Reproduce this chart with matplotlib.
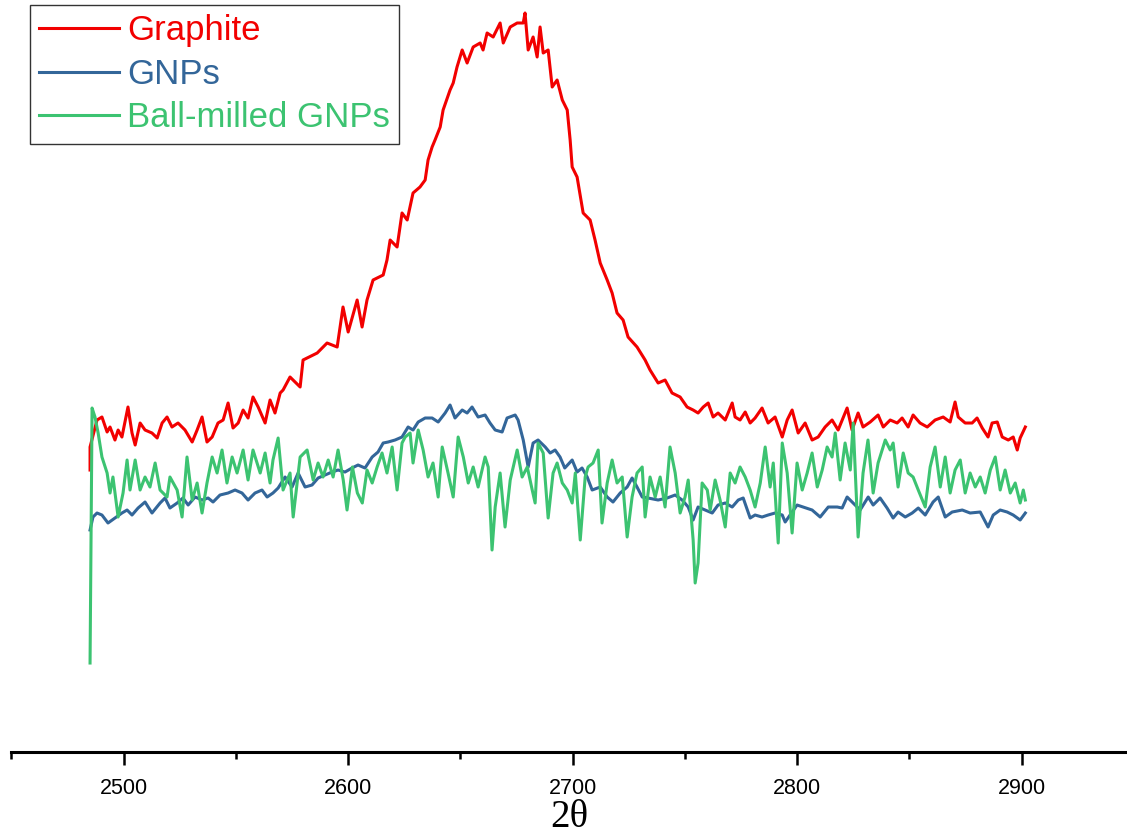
import matplotlib
matplotlib.use("Agg")
import matplotlib.pyplot as plt
from matplotlib.ticker import MultipleLocator

# Raman 2D band, intensity in arbitrary units
graphite_x = [2485.0, 2485.0, 2488.1, 2490.3, 2492.6, 2493.9, 2496.1, 2497.5, 2499.2, 2501.9,
              2503.7, 2505.1, 2507.3, 2509.5, 2512.6, 2514.9, 2517.1, 2519.3, 2521.5, 2524.2,
              2527.3, 2530.5, 2532.7, 2534.9, 2537.1, 2539.4, 2542.0, 2544.3, 2546.5, 2548.7,
              2551.0, 2553.2, 2555.4, 2557.6, 2559.9, 2563.0, 2565.2, 2567.4, 2569.7, 2571.0,
              2574.1, 2578.6, 2579.9, 2586.2, 2590.6, 2595.1, 2597.7, 2600.0, 2604.0, 2606.2,
              2608.4, 2611.1, 2615.6, 2617.3, 2618.7, 2621.8, 2624.0, 2626.3, 2628.9, 2632.0,
              2634.3, 2635.6, 2637.4, 2638.7, 2641.0, 2642.3, 2645.4, 2646.8, 2648.5, 2650.8,
              2653.0, 2655.7, 2658.8, 2660.1, 2661.9, 2664.6, 2667.7, 2669.1, 2672.2, 2675.3,
              2678.0, 2678.8, 2680.2, 2682.4, 2684.2, 2685.5, 2686.9, 2689.1, 2690.9, 2693.1,
              2695.4, 2697.6, 2698.9, 2699.8, 2702.0, 2704.7, 2707.8, 2710.0, 2712.3, 2715.4,
              2717.6, 2719.8, 2722.5, 2724.7, 2728.7, 2732.3, 2734.5, 2738.1, 2741.2, 2744.3,
              2747.9, 2751.0, 2753.7, 2755.9, 2758.2, 2760.4, 2762.6, 2764.8, 2768.0, 2771.1,
              2772.4, 2774.6, 2776.9, 2779.1, 2781.3, 2784.4, 2787.1, 2790.2, 2793.4, 2795.6,
              2797.8, 2800.5, 2803.6, 2806.7, 2809.4, 2812.5, 2815.6, 2818.3, 2822.3, 2824.5,
              2827.2, 2829.4, 2832.6, 2836.1, 2838.4, 2841.5, 2844.6, 2846.8, 2849.5, 2851.7,
              2854.8, 2858.0, 2861.5, 2865.1, 2868.2, 2870.4, 2871.8, 2874.9, 2878.0, 2880.2,
              2882.5, 2885.1, 2886.9, 2889.2, 2891.4, 2894.1, 2896.3, 2898.1, 2899.4, 2901.7]
graphite_y = [282, 305, 332, 335, 320, 325, 312, 322, 315, 345,
              319, 307, 329, 322, 319, 314, 329, 335, 325, 329,
              322, 310, 322, 335, 310, 315, 329, 332, 349, 324,
              329, 342, 334, 355, 345, 329, 352, 339, 359, 362,
              375, 365, 392, 399, 409, 405, 445, 420, 452, 425,
              452, 472, 477, 492, 512, 505, 539, 532, 559, 565,
              572, 592, 605, 612, 625, 642, 662, 669, 685, 702,
              689, 705, 709, 702, 719, 715, 729, 709, 725, 729,
              729, 739, 702, 715, 695, 725, 699, 702, 665, 672,
              652, 642, 612, 585, 575, 539, 532, 512, 489, 472,
              459, 439, 432, 415, 405, 392, 382, 369, 372, 359,
              355, 345, 342, 339, 345, 349, 335, 339, 332, 349,
              335, 332, 340, 329, 334, 344, 329, 335, 315, 332,
              342, 319, 329, 312, 315, 325, 332, 322, 344, 322,
              339, 325, 330, 337, 325, 332, 329, 334, 325, 337,
              329, 325, 332, 335, 330, 350, 335, 329, 329, 334,
              324, 315, 329, 330, 315, 312, 315, 302, 314, 325]

gnp_x = [2485.0, 2486.3, 2488.1, 2490.3, 2493.0, 2496.1, 2499.2, 2501.5, 2503.7, 2506.4,
         2509.5, 2512.6, 2516.2, 2518.4, 2520.6, 2523.8, 2526.4, 2528.7, 2531.8, 2534.9,
         2537.6, 2539.8, 2542.9, 2546.5, 2549.6, 2552.7, 2555.4, 2558.5, 2561.6, 2563.9,
         2566.5, 2568.8, 2571.9, 2575.0, 2577.7, 2580.8, 2583.9, 2586.6, 2589.7, 2592.8,
         2595.5, 2598.6, 2601.7, 2604.4, 2607.5, 2610.7, 2613.3, 2615.6, 2617.8, 2620.9,
         2624.0, 2626.7, 2628.9, 2631.2, 2634.3, 2637.4, 2640.1, 2643.2, 2645.4, 2647.6,
         2650.8, 2653.0, 2655.2, 2657.9, 2661.0, 2663.2, 2665.5, 2668.6, 2670.8, 2674.4,
         2675.7, 2678.0, 2680.2, 2682.4, 2684.6, 2687.8, 2690.0, 2692.2, 2694.4, 2696.5,
         2699.8, 2702.0, 2704.2, 2706.5, 2708.7, 2712.3, 2715.4, 2718.0, 2721.2, 2724.3,
         2726.5, 2728.7, 2731.0, 2733.6, 2738.1, 2742.1, 2745.7, 2748.8, 2751.5, 2753.7,
         2755.9, 2759.0, 2762.2, 2764.8, 2768.0, 2771.1, 2773.8, 2776.0, 2779.1, 2781.3,
         2784.4, 2787.1, 2790.2, 2793.4, 2794.7, 2796.9, 2800.0, 2802.7, 2806.7, 2810.3,
         2813.9, 2817.9, 2820.1, 2822.3, 2825.0, 2828.1, 2831.7, 2833.9, 2837.0, 2840.1,
         2842.8, 2845.0, 2848.2, 2851.3, 2854.0, 2857.1, 2860.6, 2862.9, 2866.0, 2869.1,
         2873.6, 2877.1, 2881.6, 2885.1, 2887.4, 2890.5, 2893.6, 2896.3, 2899.4, 2901.7]
gnp_y = [222, 235, 239, 237, 229, 234, 239, 242, 237, 244,
         250, 239, 249, 254, 244, 249, 254, 247, 255, 252,
         254, 250, 257, 259, 262, 259, 252, 259, 262, 255,
         259, 264, 275, 265, 279, 265, 267, 274, 277, 280,
         282, 280, 284, 287, 284, 295, 300, 309, 310, 312,
         315, 325, 322, 330, 334, 334, 330, 339, 347, 334,
         342, 339, 345, 335, 337, 329, 322, 320, 334, 337,
         332, 312, 285, 309, 312, 305, 299, 302, 295, 284,
         292, 280, 284, 275, 262, 265, 255, 250, 259, 265,
         274, 265, 255, 254, 252, 254, 257, 252, 245, 232,
         245, 242, 239, 247, 249, 245, 252, 254, 234, 237,
         235, 237, 239, 237, 230, 237, 247, 245, 242, 235,
         245, 245, 244, 255, 249, 242, 255, 247, 254, 244,
         234, 240, 235, 239, 244, 237, 250, 255, 235, 240,
         242, 239, 240, 225, 237, 242, 240, 237, 232, 239]

milled_x = [2485.0, 2485.9, 2487.2, 2488.6, 2490.3, 2492.6, 2493.9, 2495.2, 2497.5, 2499.7,
            2501.5, 2502.8, 2505.1, 2507.3, 2509.5, 2511.7, 2514.0, 2516.2, 2519.3, 2520.6,
            2523.8, 2526.0, 2528.2, 2530.5, 2532.7, 2534.9, 2537.1, 2539.4, 2541.6, 2543.8,
            2546.0, 2548.3, 2550.5, 2553.2, 2555.4, 2557.6, 2560.8, 2563.0, 2565.2, 2566.5,
            2568.8, 2571.0, 2574.1, 2575.5, 2578.6, 2581.7, 2584.4, 2586.6, 2588.8, 2591.1,
            2593.3, 2595.5, 2597.8, 2599.5, 2601.9, 2604.1, 2606.3, 2608.4, 2610.7, 2612.9,
            2615.1, 2617.3, 2619.6, 2621.8, 2624.0, 2625.4, 2627.6, 2628.9, 2631.2, 2633.4,
            2635.6, 2637.8, 2640.1, 2641.9, 2644.5, 2646.8, 2649.0, 2651.3, 2653.5, 2655.7,
            2657.9, 2661.0, 2662.4, 2664.1, 2665.5, 2667.7, 2669.9, 2672.2, 2675.3, 2677.5,
            2679.8, 2682.0, 2683.3, 2684.6, 2686.9, 2689.1, 2691.3, 2693.1, 2695.4, 2697.6,
            2699.8, 2701.2, 2703.4, 2705.6, 2706.9, 2709.1, 2711.4, 2713.1, 2715.4, 2717.6,
            2719.8, 2722.1, 2724.3, 2726.5, 2728.7, 2731.0, 2732.3, 2734.5, 2736.8, 2739.0,
            2741.2, 2743.4, 2745.7, 2747.9, 2750.1, 2751.5, 2753.7, 2754.6, 2755.9, 2757.7,
            2760.0, 2761.3, 2763.5, 2765.7, 2768.0, 2770.2, 2772.4, 2774.6, 2776.9, 2779.1,
            2781.3, 2783.6, 2785.8, 2788.0, 2789.4, 2791.6, 2793.4, 2795.6, 2797.8, 2800.0,
            2802.3, 2804.5, 2806.7, 2809.0, 2811.2, 2813.4, 2815.6, 2817.0, 2819.2, 2821.4,
            2823.7, 2825.0, 2827.2, 2829.4, 2831.6, 2833.9, 2836.1, 2839.3, 2841.5, 2842.8,
            2845.0, 2847.3, 2849.5, 2851.7, 2854.0, 2857.1, 2859.3, 2861.5, 2863.8, 2866.0,
            2868.2, 2870.4, 2872.7, 2874.9, 2877.1, 2879.4, 2881.6, 2883.8, 2886.1, 2888.3,
            2890.5, 2892.7, 2895.0, 2897.2, 2899.4, 2900.8, 2901.7]
milled_y = [89, 344, 335, 319, 295, 279, 259, 275, 235, 259,
            292, 262, 292, 262, 275, 265, 289, 262, 255, 275,
            262, 235, 295, 252, 269, 239, 269, 295, 279, 302,
            269, 295, 279, 302, 272, 302, 279, 299, 269, 292,
            314, 262, 279, 235, 295, 302, 272, 289, 275, 292,
            275, 302, 272, 242, 285, 259, 249, 282, 269, 285,
            299, 279, 305, 262, 309, 315, 319, 289, 322, 302,
            275, 289, 255, 305, 279, 255, 315, 295, 269, 285,
            265, 295, 285, 202, 245, 279, 225, 272, 302, 275,
            285, 262, 249, 309, 299, 234, 279, 289, 269, 262,
            249, 279, 212, 275, 285, 289, 302, 229, 269, 292,
            269, 275, 215, 255, 279, 285, 235, 275, 255, 275,
            245, 305, 279, 239, 255, 272, 212, 169, 189, 269,
            262, 242, 272, 252, 225, 279, 269, 285, 275, 262,
            245, 269, 305, 265, 289, 209, 309, 279, 219, 289,
            262, 279, 299, 265, 282, 305, 295, 319, 272, 309,
            282, 329, 215, 279, 312, 259, 289, 312, 302, 309,
            265, 299, 279, 275, 262, 245, 285, 305, 265, 295,
            259, 282, 292, 259, 279, 265, 275, 259, 282, 295,
            262, 282, 259, 269, 249, 262, 252]

labels = ["Graphite", "GNPs", "Ball-milled GNPs"]
colors = ["#f20000", "#336699", "#3cc371"]

plt.rcParams["font.family"] = ["Liberation Sans", "DejaVu Sans"]

fig = plt.figure(figsize=(11.27, 8.38), dpi=100)
ax = fig.add_axes([0.0102, 0.1026, 0.9898, 0.8974])

ax.plot(graphite_x, graphite_y, color=colors[0], lw=2.2, label=labels[0])
ax.plot(gnp_x, gnp_y, color=colors[1], lw=2.2, label=labels[1])
ax.plot(milled_x, milled_y, color=colors[2], lw=2.2, label=labels[2])

ax.set_xlim(2450, 2947)
ax.set_ylim(0, 752)

for side in ["top", "right", "left"]:
    ax.spines[side].set_visible(False)
ax.spines["bottom"].set_linewidth(2.2)
ax.set_yticks([])

ax.xaxis.set_major_locator(MultipleLocator(100))
ax.xaxis.set_minor_locator(MultipleLocator(50))
ax.tick_params(axis="x", which="major", direction="out", length=9.5, width=1.8,
               labelsize=15.5, pad=9)
ax.tick_params(axis="x", which="minor", direction="out", length=5, width=1.8)

ax.set_xlabel("2θ", family=["Liberation Serif", "DejaVu Serif"], fontsize=28, labelpad=0)

leg = ax.legend(loc="upper left", bbox_to_anchor=(30 / 1127, 1 - 5 / 838),
                bbox_transform=fig.transFigure, fontsize=25, frameon=True,
                fancybox=False, borderpad=0.27, borderaxespad=0, handlelength=2.3,
                handletextpad=0.23, labelspacing=0.3)
leg.get_frame().set_edgecolor("black")
leg.get_frame().set_linewidth(1.0)
for text, c in zip(leg.get_texts(), colors):
    text.set_color(c)

fig.savefig("out.png", dpi=100)
